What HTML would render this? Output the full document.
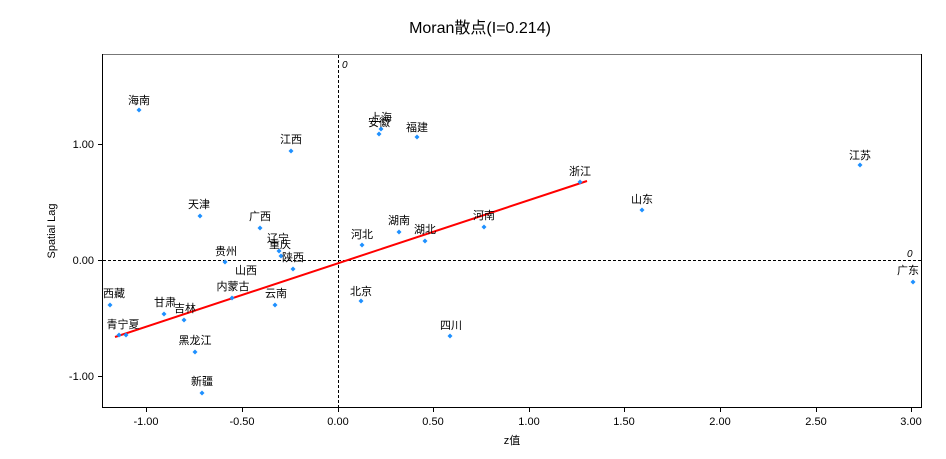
<!DOCTYPE html>
<html><head><meta charset="utf-8"><style>
html,body{margin:0;padding:0;background:#fff;}
svg{display:block;font-family:"Liberation Sans","Noto Sans CJK SC",sans-serif;}
</style></head><body>
<svg width="946" height="459" viewBox="0 0 946 459" xmlns="http://www.w3.org/2000/svg">
<rect width="946" height="459" fill="#fff"/>
<text x="480" y="33" font-size="16" text-anchor="middle" fill="#000">Moran散点(I=0.214)</text>
<line x1="102" y1="54.5" x2="922" y2="54.5" stroke="#777" stroke-width="1"/>
<line x1="102.5" y1="54" x2="102.5" y2="408" stroke="#000" stroke-width="1"/>
<line x1="921.5" y1="54" x2="921.5" y2="408" stroke="#000" stroke-width="1"/>
<line x1="102" y1="407.5" x2="922" y2="407.5" stroke="#000" stroke-width="1"/>
<line x1="338.5" y1="55" x2="338.5" y2="407" stroke="#000" stroke-dasharray="3,2" stroke-width="1"/>
<line x1="103" y1="260.5" x2="921" y2="260.5" stroke="#000" stroke-dasharray="3,2" stroke-width="1"/>
<text x="342" y="68" font-size="10" font-style="italic">0</text>
<text x="907" y="257" font-size="10" font-style="italic">0</text>
<g stroke="#000" stroke-width="1">
<line x1="98" y1="144.5" x2="102" y2="144.5"/><line x1="98" y1="260.5" x2="102" y2="260.5"/><line x1="98" y1="376.5" x2="102" y2="376.5"/>
<line x1="146.5" y1="408" x2="146.5" y2="412"/><line x1="242.5" y1="408" x2="242.5" y2="412"/><line x1="338.5" y1="408" x2="338.5" y2="412"/><line x1="433.5" y1="408" x2="433.5" y2="412"/><line x1="529.5" y1="408" x2="529.5" y2="412"/><line x1="624.5" y1="408" x2="624.5" y2="412"/><line x1="720.5" y1="408" x2="720.5" y2="412"/><line x1="816.5" y1="408" x2="816.5" y2="412"/><line x1="911.5" y1="408" x2="911.5" y2="412"/>
</g>
<g font-size="11" text-anchor="end" fill="#000">
<text x="94" y="148">1.00</text><text x="94" y="264">0.00</text><text x="94" y="380">-1.00</text>
</g>
<g font-size="11" text-anchor="middle" fill="#000">
<text x="146" y="425">-1.00</text><text x="242" y="425">-0.50</text><text x="338" y="425">0.00</text><text x="433" y="425">0.50</text><text x="529" y="425">1.00</text><text x="624" y="425">1.50</text><text x="720" y="425">2.00</text><text x="816" y="425">2.50</text><text x="911" y="425">3.00</text>
<text x="512" y="444">z值</text>
</g>
<text transform="translate(55,231) rotate(-90)" font-size="11" text-anchor="middle">Spatial Lag</text>
<line x1="115" y1="337" x2="587" y2="181" stroke="#f00" stroke-width="2"/>
<g fill="#1e90ff">
<path d="M139,107.5l2.5,2.5l-2.5,2.5l-2.5,-2.5z"/>
<path d="M291,148.5l2.5,2.5l-2.5,2.5l-2.5,-2.5z"/>
<path d="M381,126.5l2.5,2.5l-2.5,2.5l-2.5,-2.5z"/>
<path d="M379,131.5l2.5,2.5l-2.5,2.5l-2.5,-2.5z"/>
<path d="M417,134.5l2.5,2.5l-2.5,2.5l-2.5,-2.5z"/>
<path d="M580,179.5l2.5,2.5l-2.5,2.5l-2.5,-2.5z"/>
<path d="M860,162.5l2.5,2.5l-2.5,2.5l-2.5,-2.5z"/>
<path d="M642,207.5l2.5,2.5l-2.5,2.5l-2.5,-2.5z"/>
<path d="M200,213.5l2.5,2.5l-2.5,2.5l-2.5,-2.5z"/>
<path d="M260,225.5l2.5,2.5l-2.5,2.5l-2.5,-2.5z"/>
<path d="M279,248.5l2.5,2.5l-2.5,2.5l-2.5,-2.5z"/>
<path d="M281,253.5l2.5,2.5l-2.5,2.5l-2.5,-2.5z"/>
<path d="M293,266.5l2.5,2.5l-2.5,2.5l-2.5,-2.5z"/>
<path d="M225,259.5l2.5,2.5l-2.5,2.5l-2.5,-2.5z"/>
<path d="M362,242.5l2.5,2.5l-2.5,2.5l-2.5,-2.5z"/>
<path d="M399,229.5l2.5,2.5l-2.5,2.5l-2.5,-2.5z"/>
<path d="M425,238.5l2.5,2.5l-2.5,2.5l-2.5,-2.5z"/>
<path d="M484,224.5l2.5,2.5l-2.5,2.5l-2.5,-2.5z"/>
<path d="M361,298.5l2.5,2.5l-2.5,2.5l-2.5,-2.5z"/>
<path d="M450,333.5l2.5,2.5l-2.5,2.5l-2.5,-2.5z"/>
<path d="M913,279.5l2.5,2.5l-2.5,2.5l-2.5,-2.5z"/>
<path d="M232,295.5l2.5,2.5l-2.5,2.5l-2.5,-2.5z"/>
<path d="M275,302.5l2.5,2.5l-2.5,2.5l-2.5,-2.5z"/>
<path d="M110,302.5l2.5,2.5l-2.5,2.5l-2.5,-2.5z"/>
<path d="M164,311.5l2.5,2.5l-2.5,2.5l-2.5,-2.5z"/>
<path d="M184,317.5l2.5,2.5l-2.5,2.5l-2.5,-2.5z"/>
<path d="M119,332.5l2.5,2.5l-2.5,2.5l-2.5,-2.5z"/>
<path d="M126,332.5l2.5,2.5l-2.5,2.5l-2.5,-2.5z"/>
<path d="M195,349.5l2.5,2.5l-2.5,2.5l-2.5,-2.5z"/>
<path d="M202,390.5l2.5,2.5l-2.5,2.5l-2.5,-2.5z"/>
</g>
<g font-size="11" text-anchor="middle" fill="#000">
<text x="139" y="104">海南</text>
<text x="291" y="143">江西</text>
<text x="381" y="121">上海</text>
<text x="379" y="126">安徽</text>
<text x="417" y="131">福建</text>
<text x="580" y="175">浙江</text>
<text x="860" y="159">江苏</text>
<text x="642" y="203">山东</text>
<text x="199" y="208">天津</text>
<text x="260" y="220">广西</text>
<text x="278" y="242">辽宁</text>
<text x="280" y="248">重庆</text>
<text x="293" y="261">陕西</text>
<text x="226" y="255">贵州</text>
<text x="246" y="274">山西</text>
<text x="362" y="238">河北</text>
<text x="399" y="224">湖南</text>
<text x="425" y="233">湖北</text>
<text x="484" y="219">河南</text>
<text x="361" y="295">北京</text>
<text x="451" y="329">四川</text>
<text x="908" y="274">广东</text>
<text x="233" y="290">内蒙古</text>
<text x="276" y="297">云南</text>
<text x="114" y="297">西藏</text>
<text x="165" y="306">甘肃</text>
<text x="185" y="312">吉林</text>
<text x="123" y="328">青宁夏</text>
<text x="195" y="344">黑龙江</text>
<text x="202" y="385">新疆</text>
</g>
</svg>
</body></html>
